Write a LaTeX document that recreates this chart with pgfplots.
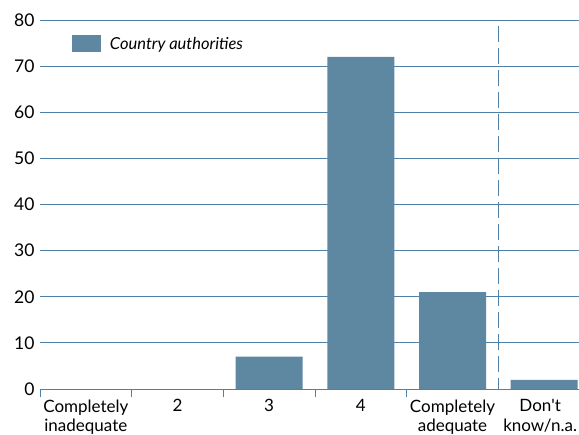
\documentclass[border=0pt]{standalone}
\usepackage{fontspec}
\setmainfont{Lato}
\usepackage{pgfplots}
\pgfplotsset{compat=1.18}
\definecolor{barcol}{RGB}{94,135,161}
\definecolor{gridcol}{RGB}{80,128,166}

\begin{document}
\begin{tikzpicture}
\path[use as bounding box] (-40bp,-46bp) rectangle (539bp,389bp);
\begin{axis}[
    at={(0,0)}, anchor=south west,
    scale only axis,
    width=539bp, height=369bp,
    xmin=-0.5, xmax=5.38,
    ymin=0, ymax=80,
    ytick={0,10,...,80},
    xtick={0,...,4},
    xticklabels={Completely\\inadequate, 2, 3, 4, Completely\\adequate},
    extra x ticks={5},
    extra x tick labels={Don\textquotesingle t\\know/n.a.},
    extra x tick style={tick label style={xshift=-4bp}},
    x tick label style={align=center, font=\fontsize{17bp}{19.5bp}\selectfont, anchor=north, yshift=-7bp},
    y tick label style={font=\fontsize{17.5bp}{19bp}\selectfont, xshift=-2bp},
    /pgf/number format/assume math mode=true,
    minor xtick={-0.5,0.5,1.5,2.5,3.5},
    xtick pos=bottom,
    major tick length=0pt,
    minor tick length=8bp,
    tick align=inside,
    minor tick style={gridcol, line width=1pt},
    major tick style={draw=none},
    axis line style={draw=none},
    ymajorgrids,
    grid style={gridcol, line width=1pt},
    ybar, bar width=67bp,
    legend style={draw=none, fill=none, at={(rel axis cs:0.059,0.935)}, anchor=west,
        font=\fontsize{16.5bp}{18bp}\selectfont\itshape, inner xsep=0pt},
    legend image code/.code={\fill[barcol] (0bp,-8.5bp) rectangle (29bp,8.5bp); \path (36bp,0bp);},
    legend cell align=left,
    clip=false,
]
\addplot[fill=barcol, draw=none] coordinates {(0,0) (1,0) (2,7) (3,72) (4,21) (5,2)};
\addlegendentry{Country authorities}
\addplot[ybar=none, sharp plot, gridcol, line width=1pt, dash pattern=on 16bp off 6bp, forget plot]
    coordinates {(4.5,78.7) (4.5,0)};
\end{axis}
\end{tikzpicture}
\end{document}
